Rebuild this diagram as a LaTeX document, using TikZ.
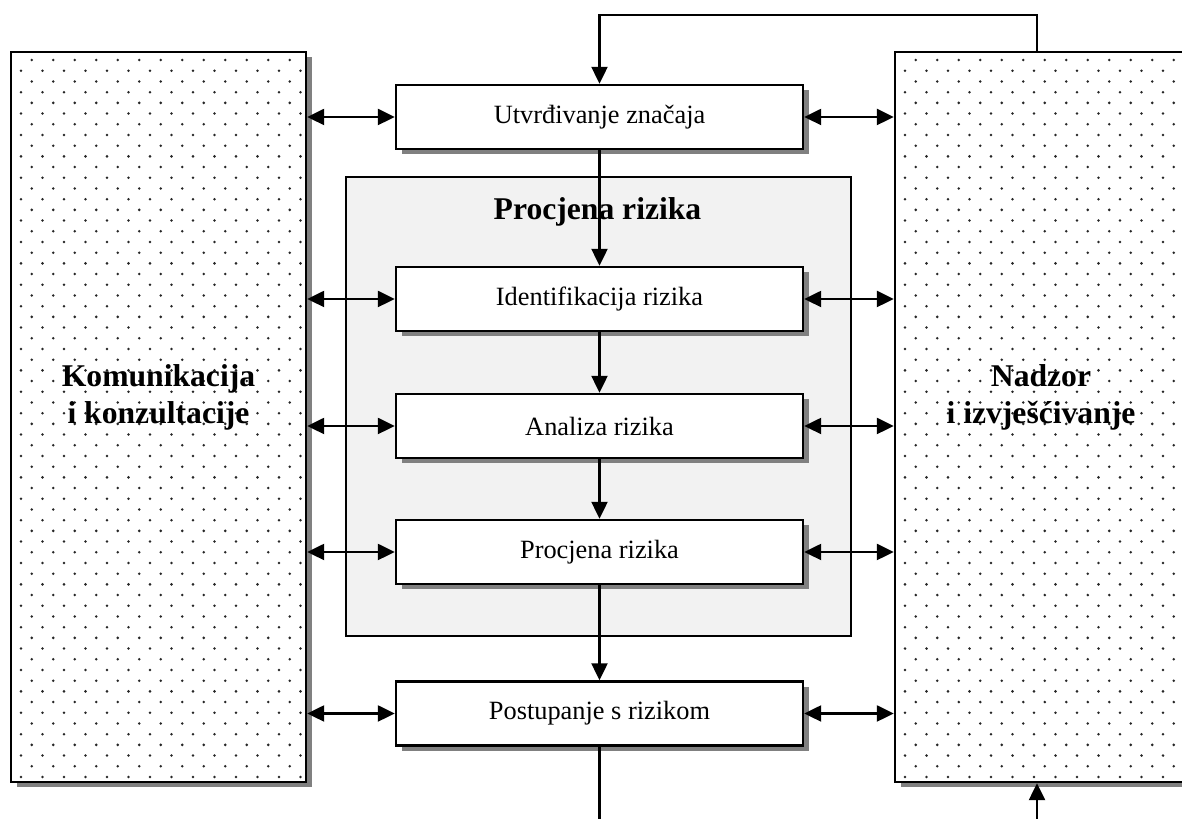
\documentclass[tikz,border=0pt]{standalone}
\usepackage{fontspec}
\setmainfont{Liberation Serif}
\usetikzlibrary{arrows.meta,shadows}

\tikzset{
    shadowed/.style={drop shadow={shadow xshift=0.11cm, shadow yshift=-0.11cm, opacity=1, fill=black!50}},
    stepbox/.style={draw, line width=1.4pt, fill=white, shadowed, minimum width=8.14cm, minimum height=1.28cm, inner sep=0pt, font=\fontsize{15}{18}\selectfont},
    sidebox/.style={draw, line width=1.4pt, fill=white, shadowed, minimum width=5.9cm, minimum height=14.6cm, inner sep=0pt},
    sidetext/.style={align=center, font=\fontsize{18}{21}\selectfont\bfseries},
    arrow/.style={line width=1.4pt, -{Triangle[length=0.34cm, width=0.32cm]}},
    dblarrow/.style={line width=1.4pt, {Triangle[length=0.34cm, width=0.32cm]}-{Triangle[length=0.34cm, width=0.32cm]}},
}

\begin{document}
\begin{tikzpicture}
    \useasboundingbox (0,0) rectangle (23.64,16.38);

    % side boxes
    \node[sidebox] (kom) at (3.17,8.04) {};
    \node[sidebox] (nad) at (20.85,8.04) {};

    \foreach \bx in {0.22,17.9}{
        \begin{scope}
            \clip (\bx,0.74) rectangle ++(5.9,14.6);
            \foreach \r in {0,...,69}{
                \pgfmathsetmacro{\off}{mod(\r,2)*0.215}
                \foreach \c in {0,...,14}
                    \fill[black!85] ({\bx+0.2+\off+\c*0.43},{0.84+\r*0.214}) circle (0.8pt);
            }
        \end{scope}
        \draw[line width=1.4pt] (\bx,0.74) rectangle ++(5.9,14.6);
    }

    \node[sidetext] at (3.17,8.44) {Komunikacija\\i konzultacije};
    \node[sidetext] at (20.82,8.44) {Nadzor\\i izvješćivanje};

    % risk assessment frame
    \draw[line width=1.1pt, fill=black!5] (6.92,3.66) rectangle (17.02,12.84);
    \node[font=\fontsize{18}{21}\selectfont\bfseries] (title) at (11.95,12.14) {Procjena rizika};

    % process steps
    \node[stepbox] (ut) at (11.99,14.04) {Utvrđivanje značaja};
    \node[stepbox] (id) at (11.99,10.40) {Identifikacija rizika};
    \node[stepbox] (an) at (11.99,7.86) {Analiza rizika};
    \node[stepbox] (pr) at (11.99,5.34) {Procjena rizika};
    \node[stepbox] (po) at (11.99,2.11) {Postupanje s rizikom};

    \draw[arrow] (ut) -- (id);
    \draw[arrow] (id) -- (an);
    \draw[arrow] (an) -- (pr);
    \draw[arrow] (pr) -- (po);

    \foreach \n in {ut,id,an,pr,po}{
        \draw[dblarrow] (kom.east |- \n.west) -- (\n.west);
        \draw[dblarrow] (\n.east) -- (nad.west |- \n.east);
    }

    % feedback loop
    \coordinate (fb) at (20.74,16.08);
    \coordinate (out) at (11.99,0);
    \coordinate (in) at (20.74,0);
    \draw[arrow] (nad.north -| fb) -- (fb) -| (ut.north);
    \draw[line width=1.2pt] (po.south) -- (out);
    \draw[arrow] (in) -- (in |- nad.south);

\end{tikzpicture}
\end{document}
